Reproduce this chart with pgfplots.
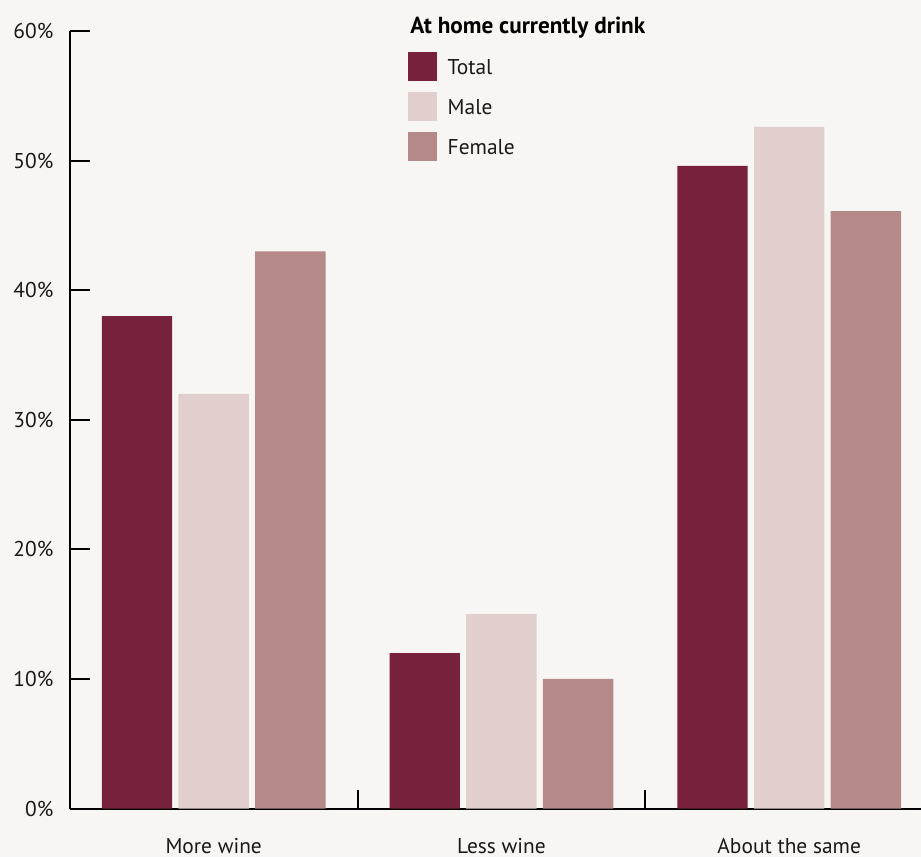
\documentclass[border=0pt]{standalone}
\usepackage{fontspec}
\setmainfont{PT Sans}
\usepackage{pgfplots}
\pgfplotsset{compat=1.18}
\definecolor{bg}{RGB}{248,246,242}
\definecolor{ctotal}{RGB}{119,33,59}
\definecolor{cmale}{RGB}{224,207,205}
\definecolor{cfemale}{RGB}{181,136,137}
\pgfplotsset{sq/.style={legend image code/.code={\fill[##1] (0pt,-6.5pt) rectangle (14.5pt,8pt);}}}
\newcommand{\lbl}{\fontsize{10.7pt}{12pt}\selectfont}
\begin{document}
\begin{tikzpicture}
\fill[bg] (-34.9pt,-24.25pt) rectangle (425.6pt,404.25pt);
\path[use as bounding box] (-34.9pt,-24.25pt) rectangle (425.6pt,404.25pt);
\begin{axis}[
  at={(0pt,0pt)}, anchor=south west,
  scale only axis, width=425.6pt, height=388.75pt,
  xmin=-0.5, xmax=2.458, ymin=0, ymax=60,
  clip=false,
  axis x line=bottom, axis y line=left,
  axis line style={-, line width=1pt, black},
  tick align=inside,
  xtick={0,1,2},
  xticklabels={More wine, Less wine, About the same},
  major x tick style={draw=none},
  minor xtick={0.5,1.5},
  minor tick length=9.5pt,
  minor x tick style={line width=1pt, black},
  ytick={0,10,20,30,40,50,60},
  major tick length=10pt,
  major y tick style={line width=1pt, black},
  yticklabel={\pgfmathprintnumber{\tick}\%},
  /pgf/number format/assume math mode=true,
  xticklabel style={font=\lbl, yshift=-11.5pt, text=black!90},
  yticklabel style={font=\lbl, xshift=-4.7pt, text=black!90},
  legend style={at={(axis cs:0.673,58.38)}, anchor=north west, draw=none, fill=none,
    inner sep=0pt, row sep=5.5pt, column sep=5.5pt, font=\lbl,
    nodes={inner sep=0pt, text=black!90}},
  legend cell align=left,
]
\addplot[ybar, bar width=0.2447, bar shift=0pt, fill=ctotal, draw=none, sq]
  coordinates {(-0.2665,38) (0.7335,12) (1.7335,49.6)};
\addlegendentry{Total}
\addplot[ybar, bar width=0.2447, bar shift=0pt, fill=cmale, draw=none, sq]
  coordinates {(0,32) (1,15) (2,52.6)};
\addlegendentry{Male}
\addplot[ybar, bar width=0.2447, bar shift=0pt, fill=cfemale, draw=none, sq]
  coordinates {(0.2665,43) (1.2665,10) (2.2665,46.1)};
\addlegendentry{Female}
\node[anchor=base west, inner sep=0pt, font=\fontsize{11.6pt}{13pt}\selectfont\bfseries]
  at (axis cs:0.6823,59.81) {At home currently drink};
\end{axis}
\end{tikzpicture}
\end{document}
